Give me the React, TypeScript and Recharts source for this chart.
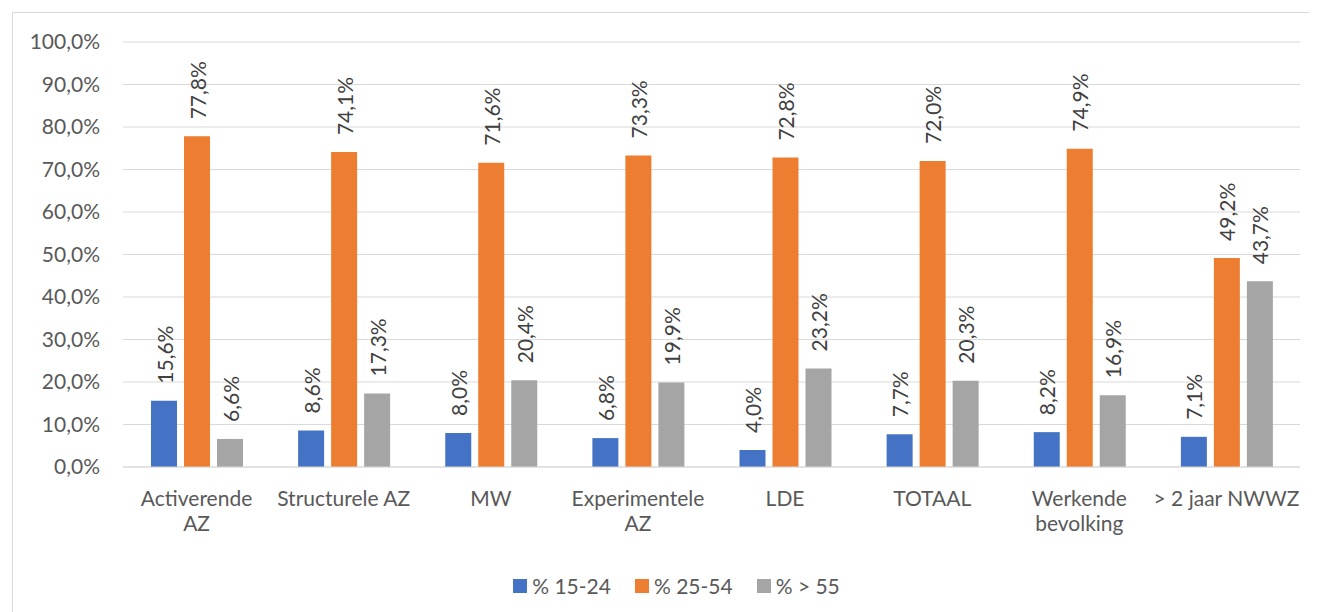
import { BarChart, Bar, XAxis, YAxis, CartesianGrid, Legend } from "recharts"

const categories = [
  "Activerende\nAZ",
  "Structurele AZ",
  "MW",
  "Experimentele\nAZ",
  "LDE",
  "TOTAAL",
  "Werkende\nbevolking",
  "> 2 jaar NWWZ",
]
const young = [15.6, 8.6, 8.0, 6.8, 4.0, 7.7, 8.2, 7.1]
const middle = [77.8, 74.1, 71.6, 73.3, 72.8, 72.0, 74.9, 49.2]
const older = [6.6, 17.3, 20.4, 19.9, 23.2, 20.3, 16.9, 43.7]
const yTicks = [0, 10, 20, 30, 40, 50, 60, 70, 80, 90, 100]

const data = categories.map((name, i) => ({
  name,
  young: young[i],
  middle: middle[i],
  older: older[i],
}))

const FONT = "Lato, 'Open Sans', sans-serif"
const pct = (v: number) => v.toFixed(1).replace(".", ",") + "%"

const CategoryTick = (props: any) => {
  const { x, y, payload } = props
  const lines = String(payload.value).split("\n")
  return (
    <text x={x} y={y + 31} textAnchor="middle" fill="#595959" fontSize={21} fontFamily={FONT}>
      {lines.map((l, i) => (
        <tspan key={i} x={x} dy={i === 0 ? 0 : 25}>
          {l}
        </tspan>
      ))}
    </text>
  )
}

const ValueLabel = (props: any) => {
  const { x, y, width, value } = props
  const cx = x + width / 2
  const cy = y - 17
  return (
    <text
      transform={`translate(${cx}, ${cy}) rotate(-90)`}
      textAnchor="start"
      dominantBaseline="central"
      fill="#404040"
      fontSize={21}
      fontFamily={FONT}
    >
      {pct(value)}
    </text>
  )
}

const LegendContent = (props: any) => {
  const { payload } = props
  return (
    <div style={{ display: "flex", justifyContent: "center", gap: 24, paddingLeft: 40, fontFamily: FONT, fontSize: 21, color: "#595959" }}>
      {payload.map((p: any) => (
        <div key={p.value} style={{ display: "flex", alignItems: "center" }}>
          <span style={{ display: "inline-block", width: 14, height: 14, background: p.color, marginRight: 5 }} />
          <span>{p.value}</span>
        </div>
      ))}
    </div>
  )
}

export default function App() {
  return (
    <>
      <style>{`html, body { overflow: hidden; }`}</style>
      <div style={{ width: 1309, height: 604, overflow: "hidden" }}>
        <div style={{ margin: 4, width: 1340, height: 600, borderLeft: "1px solid #d9d9d9", borderTop: "1px solid #d9d9d9", background: "#fff" }}>
          <BarChart
            width={1340}
            height={600}
            data={data}
            margin={{ top: 29, right: 53, left: 0, bottom: 0 }}
            barGap={7}
            barSize={26}
          >
            <CartesianGrid vertical={false} stroke="#d9d9d9" />
            <XAxis
              dataKey="name"
              height={106}
              interval={0}
              axisLine={{ stroke: "#d9d9d9" }}
              tickLine={false}
              tick={<CategoryTick />}
            />
            <YAxis
              width={110}
              domain={[0, 100]}
              ticks={yTicks}
              axisLine={false}
              tickLine={false}
              tickMargin={17}
              tickFormatter={pct}
              tick={{ fill: "#595959", fontSize: 21, fontFamily: FONT }}
            />
            <Legend verticalAlign="bottom" height={40} content={<LegendContent />} />
            <Bar dataKey="young" name="% 15-24" fill="#4472C4" isAnimationActive={false} label={<ValueLabel />} />
            <Bar dataKey="middle" name="% 25-54" fill="#ED7D31" isAnimationActive={false} label={<ValueLabel />} />
            <Bar dataKey="older" name="% > 55" fill="#A5A5A5" isAnimationActive={false} label={<ValueLabel />} />
          </BarChart>
        </div>
      </div>
    </>
  )
}
